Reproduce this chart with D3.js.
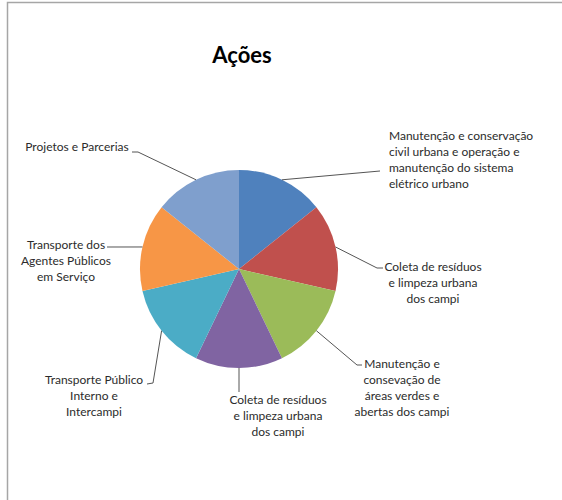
<!DOCTYPE html>
<html>
<head>
<meta charset="utf-8">
<script src="https://cdn.jsdelivr.net/npm/d3@7"></script>
<style>
  body { margin: 0; background: #fff; }
  svg text { font-family: Lato, "Open Sans", sans-serif; fill: #2b2b2b; }
</style>
</head>
<body>
<div id="chart"></div>
<script>
// data
let categories = [
	["Manutenção e conservação", "civil urbana e operação e", "manutenção do sistema", "elétrico urbano"],
	["Coleta de resíduos", "e limpeza urbana", "dos campi"],
	["Manutenção e", "consevação de", "áreas verdes  e", "abertas dos campi"],
	["Coleta de resíduos", "e limpeza urbana", "dos campi"],
	["Transporte Público", "Interno e", "Intercampi"],
	["Transporte dos", "Agentes Públicos", "em Serviço"],
	["Projetos e Parcerias"]
];
let values = [1, 1, 1, 1, 1, 1, 1];
let colors = ["#4f81bd", "#c0504d", "#9bbb59", "#8064a2", "#4bacc6", "#f79646", "#7f9fcd"];

// label layout (text anchor + leader elbow/end)
let labelLayout = [
	{x: 389, y: 140, anchor: "start",  pts: [[380, 171]]},
	{x: 433, y: 271, anchor: "middle", pts: [[377, 268], [383, 268]]},
	{x: 402, y: 368, anchor: "middle", pts: [[357, 365], [362, 365]]},
	{x: 278, y: 404, anchor: "middle", pts: [[239, 392]]},
	{x: 94,  y: 384, anchor: "middle", pts: [[153, 383], [147, 384]]},
	{x: 66,  y: 249, anchor: "middle", pts: [[107, 247]]},
	{x: 77,  y: 151, anchor: "middle", pts: [[138, 152], [132, 152]]}
];

var w = 562,
	h = 500,
	cx = 239,
	cy = 269,
	r = 99,
	lineH = 16;

let svg = d3.select("#chart")
			.append("svg")
			.attr("width", w)
			.attr("height", h);

// frame
svg.append("rect")
   .attr("x", 7.5).attr("y", 2.5)
   .attr("width", 700).attr("height", 700)
   .attr("fill", "none")
   .attr("stroke", "#a6a6a6")
   .attr("stroke-width", 1.5);

svg.append("text")
   .attr("x", 242)
   .attr("y", 63)
   .attr("text-anchor", "middle")
   .style("font-size", "22px")
   .style("font-weight", "bold")
   .style("fill", "#000")
   .text("Ações");

let pie = d3.pie().sort(null).value((d) => d);
let arcs = pie(values);
let arc = d3.arc().innerRadius(0).outerRadius(r);

let g = svg.append("g").attr("transform", "translate(" + cx + "," + cy + ")");

g.selectAll("path")
 .data(arcs)
 .enter()
 .append("path")
 .attr("d", arc)
 .attr("fill", (d, i) => colors[i]);

// leader lines start on the slice edge at mid angle
let line = d3.line();
svg.append("g")
   .selectAll("path")
   .data(arcs)
   .enter()
   .append("path")
   .attr("d", function(d, i){
	   let a = (d.startAngle + d.endAngle) / 2;
	   let start = [cx + r * Math.sin(a), cy - r * Math.cos(a)];
	   return line([start].concat(labelLayout[i].pts));
   })
   .attr("fill", "none")
   .attr("stroke", "#555")
   .attr("stroke-width", 1);

let labels = svg.append("g")
				.selectAll("text")
				.data(categories)
				.enter()
				.append("text")
				.attr("x", (d, i) => labelLayout[i].x)
				.attr("y", (d, i) => labelLayout[i].y)
				.attr("text-anchor", (d, i) => labelLayout[i].anchor)
				.style("font-size", "12px");

labels.each(function(d, i){
	let t = d3.select(this);
	d.forEach(function(s, j){
		t.append("tspan")
		 .attr("x", labelLayout[i].x)
		 .attr("y", labelLayout[i].y + j * lineH)
		 .text(s);
	});
});
</script>
</body>
</html>
